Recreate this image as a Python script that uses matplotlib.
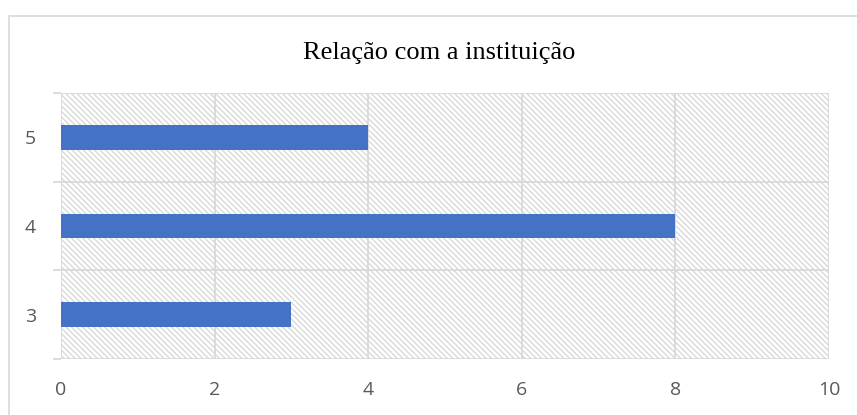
#!/usr/bin/env python

import numpy as np
import matplotlib
matplotlib.use("Agg")
import matplotlib.pyplot as plt
from matplotlib.patches import Rectangle

plt.rcParams['hatch.color'] = '#d9d9d9'
plt.rcParams['hatch.linewidth'] = 1.0

categories = ["3", "4", "5"]
values = [3, 8, 4]
x_ticks = [0, 2, 4, 6, 8, 10]
title = "Relação com a instituição"

grid_color = "#d9d9d9"
bar_color = "#4472c4"
label_color = "#595959"

fig = plt.figure(figsize=(8.57, 4.15), dpi=100)
ax = fig.add_axes([61 / 857, 1 - 359 / 415, (829 - 61) / 857, (359 - 93) / 415])

# outer chart border
fig.patches.append(Rectangle((9 / 857, -0.1), 1.2, 1 - 16 / 415 + 0.1, transform=fig.transFigure,
                             fill=False, edgecolor=grid_color, linewidth=1.2))

# hatched plot area
ax.add_patch(Rectangle((0, 0), 1, 1, transform=ax.transAxes, facecolor="white",
                       edgecolor=grid_color, hatch="\\\\\\\\\\\\", linewidth=0, zorder=0))

y = np.arange(len(categories))
ax.barh(y, values, height=0.28, color=bar_color, zorder=3)

ax.set_xlim(0, 10)
ax.set_ylim(-0.5, len(categories) - 0.5)
ax.set_xticks(x_ticks)
ax.set_xticklabels([str(t) for t in x_ticks])
ax.set_yticks(y)
ax.set_yticklabels(categories)
ax.set_yticks(np.arange(-0.5, len(categories)), minor=True)

for s in ax.spines.values():
    s.set_visible(False)

ax.xaxis.grid(True, color=grid_color, linewidth=1.3, zorder=1)
ax.yaxis.grid(True, which="minor", color=grid_color, linewidth=1.3, zorder=1)
ax.set_axisbelow(True)

ax.tick_params(axis="x", length=0, pad=16, labelsize=14, labelcolor=label_color)
ax.tick_params(axis="y", which="major", length=0, pad=18, labelsize=14, labelcolor=label_color)
ax.tick_params(axis="y", which="minor", length=6, width=1.3, color=grid_color)

for lab in ax.get_xticklabels() + ax.get_yticklabels():
    lab.set_fontfamily("Open Sans")

fig.text(439 / 857, 1 - 59 / 415, title, ha="center", va="baseline",
         fontsize=19, family="Liberation Serif", color="black")

fig.savefig("out.png", dpi=100, facecolor="white")
